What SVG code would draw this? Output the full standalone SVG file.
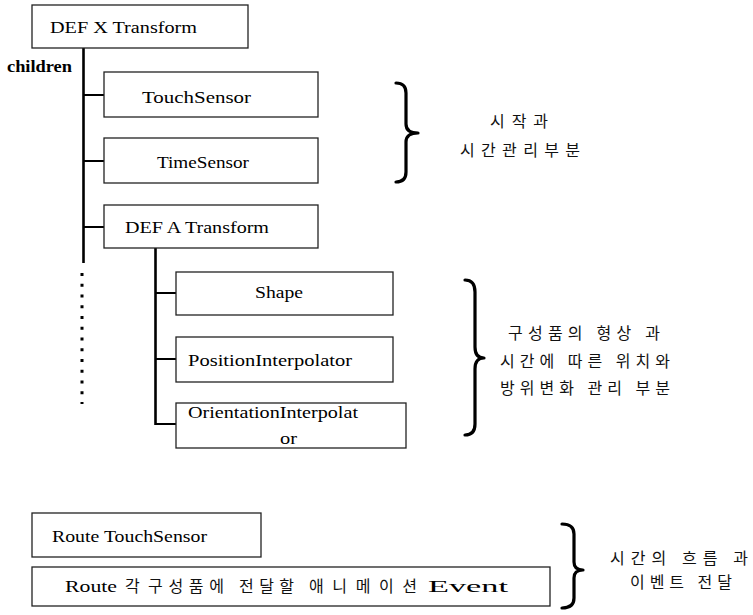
<svg xmlns="http://www.w3.org/2000/svg" width="753" height="615" viewBox="0 0 753 615">
<style>
.box{fill:#fff;stroke:#222;stroke-width:1.3}
.t{font-family:"Liberation Serif","Times New Roman","DejaVu Serif",serif;font-size:16px;fill:#000}
.k{font-family:"Noto Sans CJK KR",sans-serif;font-size:16px;fill:#111}
.ln{stroke:#000;stroke-width:2.6;fill:none}
.tk{stroke:#000;stroke-width:2;fill:none}
.br{stroke:#000;stroke-width:3.2;fill:none;stroke-linecap:round;stroke-linejoin:round}
</style>
<rect width="753" height="615" fill="#fff"/>
<g id="connectors">
<line class="ln" x1="83.5" y1="48" x2="83.5" y2="263"/>
<line x1="82" y1="273" x2="82" y2="404" stroke="#000" stroke-width="3" stroke-dasharray="3 7.75"/>
<line class="tk" x1="83" y1="95" x2="104" y2="95"/>
<line class="tk" x1="83" y1="161" x2="104" y2="161"/>
<line class="tk" x1="83" y1="227" x2="104" y2="227"/>
<line class="ln" x1="155.5" y1="248" x2="155.5" y2="425"/>
<line class="tk" x1="155" y1="293" x2="176" y2="293"/>
<line class="tk" x1="155" y1="359" x2="176" y2="359"/>
<line class="tk" x1="155" y1="424" x2="176" y2="424"/>
</g>
<g id="defx">
<rect class="box" x="32" y="5" width="216" height="43"/>
<text class="t" x="50" y="33" textLength="147" lengthAdjust="spacingAndGlyphs">DEF X Transform</text>
</g>
<g id="children-label">
<text class="t" x="7" y="72" font-weight="bold" textLength="65" lengthAdjust="spacingAndGlyphs">children</text>
</g>
<g id="touchsensor">
<rect class="box" x="104" y="72" width="214" height="45"/>
<text class="t" x="142" y="103" textLength="109" lengthAdjust="spacingAndGlyphs">TouchSensor</text>
</g>
<g id="timesensor">
<rect class="box" x="104" y="138" width="214" height="45"/>
<text class="t" x="157" y="168" textLength="92" lengthAdjust="spacingAndGlyphs">TimeSensor</text>
</g>
<g id="defa">
<rect class="box" x="104" y="205" width="214" height="43"/>
<text class="t" x="125" y="233" textLength="144" lengthAdjust="spacingAndGlyphs">DEF A Transform</text>
</g>
<g id="shape">
<rect class="box" x="176" y="272" width="217" height="43"/>
<text class="t" x="255" y="298" textLength="48" lengthAdjust="spacingAndGlyphs">Shape</text>
</g>
<g id="posinterp">
<rect class="box" x="176" y="337" width="217" height="45"/>
<text class="t" x="188" y="366" textLength="164" lengthAdjust="spacingAndGlyphs">PositionInterpolator</text>
</g>
<g id="oriinterp">
<rect class="box" x="176" y="403" width="230" height="45"/>
<text class="t" x="188" y="418" textLength="170" lengthAdjust="spacingAndGlyphs">OrientationInterpolat</text>
<text class="t" x="280" y="444" textLength="17" lengthAdjust="spacingAndGlyphs">or</text>
</g>
<g id="route-touch">
<rect class="box" x="32" y="513" width="229" height="44"/>
<text class="t" x="52" y="542" textLength="155" lengthAdjust="spacingAndGlyphs">Route TouchSensor</text>
</g>
<g id="route-event">
<rect class="box" x="32" y="567" width="518" height="39"/>
<text y="592"><tspan class="t" x="65" textLength="52" lengthAdjust="spacingAndGlyphs">Route</tspan> <tspan class="k" x="125" textLength="15" lengthAdjust="spacing">각</tspan> <tspan class="k" x="148" textLength="76" lengthAdjust="spacing">구성품에</tspan> <tspan class="k" x="239" textLength="55" lengthAdjust="spacing">전달할</tspan> <tspan class="k" x="309" textLength="108" lengthAdjust="spacing">애니메이션</tspan> <tspan class="t" x="428" textLength="80" lengthAdjust="spacingAndGlyphs">Event</tspan></text>
</g>
<g id="brace1">
<path class="br" d="M396,83 Q406,83 406,93 L406,124 Q406,133 418,133 Q406,133 406,142 L406,172 Q406,182 396,182"/>
<text class="k" x="519" y="127" font-size="17" text-anchor="middle" textLength="58" lengthAdjust="spacing">시작과</text>
<text class="k" x="520" y="156" font-size="17" text-anchor="middle" textLength="120" lengthAdjust="spacing">시간관리부분</text>
</g>
<g id="brace2">
<path class="br" d="M465,280 Q475,280 475,292 L475,347 Q475,358 484,358 Q475,358 475,369 L475,424 Q475,435 465,435"/>
<text class="k" x="584" y="339" font-size="17" text-anchor="middle" textLength="152" lengthAdjust="spacing">구성품의 형상 과</text>
<text class="k" x="585" y="367" font-size="17" text-anchor="middle" textLength="170" lengthAdjust="spacing">시간에 따른 위치와</text>
<text class="k" x="585" y="394" font-size="17" text-anchor="middle" textLength="170" lengthAdjust="spacing">방위변화 관리 부분</text>
</g>
<g id="brace3">
<path class="br" d="M562,524 Q574,524 574,534 L574,562 Q574,570 583,570 Q574,570 574,578 L574,598 Q574,608 562,608"/>
<text class="k" x="679" y="564" font-size="15" text-anchor="middle" textLength="138" lengthAdjust="spacing">시간의 흐름  과</text>
<text class="k" x="681" y="588" font-size="15" text-anchor="middle" textLength="102" lengthAdjust="spacing">이벤트 전달</text>
</g>
</svg>
